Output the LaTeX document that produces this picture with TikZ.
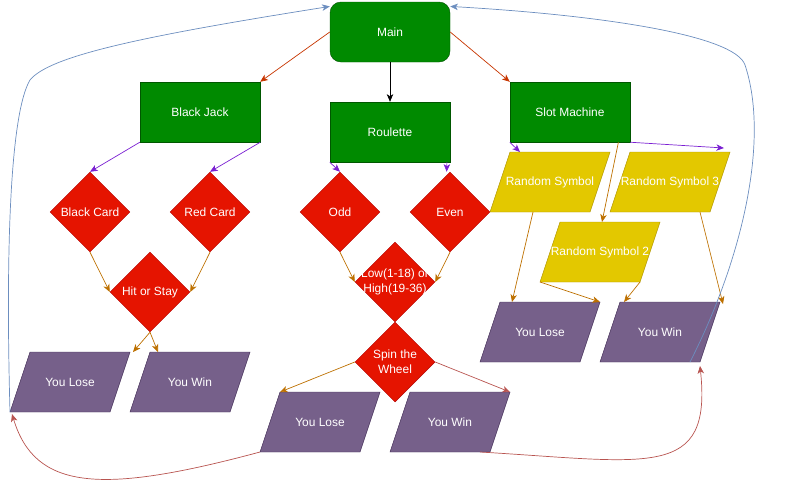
\documentclass[tikz,border=0pt]{standalone}
\usepackage{fontspec}
\setmainfont{Liberation Sans}
\usetikzlibrary{shapes.geometric, arrows.meta, calc}

\definecolor{gamegreen}{HTML}{008A00}
\definecolor{gameline}{HTML}{005700}
\definecolor{choicered}{HTML}{E51400}
\definecolor{choiceline}{HTML}{B20000}
\definecolor{symyellow}{HTML}{E3C800}
\definecolor{symline}{HTML}{B09500}
\definecolor{endpurple}{HTML}{76608A}
\definecolor{endline}{HTML}{432D57}
\definecolor{toorange}{HTML}{C73500}
\definecolor{toviolet}{HTML}{7A1FD2}
\definecolor{tobrown}{HTML}{BD7000}
\definecolor{tored}{HTML}{B85450}
\definecolor{toblue}{HTML}{6C8EBF}

\tikzset{
  game/.style={draw=gameline, fill=gamegreen, text=white, minimum width=3.6cm, minimum height=1.8cm, inner sep=0pt},
  choice/.style={diamond, draw=choiceline, fill=choicered, minimum width=2.4cm, minimum height=2.4cm, inner sep=0pt},
  symbol/.style={draw=symline, fill=symyellow},
  outcome/.style={draw=endline, fill=endpurple},
  txt/.style={text=white, align=center},
  flow/.style={line width=0.6pt, -{Stealth[length=6.5pt, width=5.5pt, inset=1.8pt]}}
}

% slanted box: name, centre, colours, text
\newcommand{\slantbox}[4]{%
  \begin{scope}[shift={(#2)}]
    \filldraw[#3] (-60,30) coordinate (#1-bl) -- (-40,-30) coordinate (#1-tl)
      -- (60,-30) coordinate (#1-tr) -- (40,30) coordinate (#1-br) -- cycle;
    \node[txt] (#1) at (0,0) {#4};
  \end{scope}}

\begin{document}
\begin{tikzpicture}[x=0.03cm, y=-0.03cm, font=\fontsize{10.2}{12.8}\selectfont]
  \useasboundingbox (0,0) rectangle (811,493);

  % games
  \node[game, rounded corners=0.33cm] (main) at (390,32) {Main};
  \node[game] (bj) at (200,112) {Black Jack};
  \node[game] (roul) at (390,132) {Roulette};
  \node[game] (slot) at (570,112) {Slot Machine};

  % choices
  \node[choice, label={[txt]center:Black Card}] (bcard) at (90,212) {};
  \node[choice, label={[txt]center:Red Card}] (rcard) at (210,212) {};
  \node[choice, label={[txt]center:Hit or Stay}] (hit) at (150,292) {};
  \node[choice, label={[txt]center:Odd}] (odd) at (340,212) {};
  \node[choice, label={[txt]center:Even}] (even) at (450,212) {};
  \node[choice, label={[txt]center:{Low(1-18) or\\High(19-36)}}] (low) at (395,282) {};
  \node[choice, label={[txt]center:{Spin the\\Wheel}}] (spin) at (395,362) {};

  % symbols
  \slantbox{rs1}{550,182}{symbol}{Random Symbol}
  \slantbox{rs3}{670,182}{symbol}{Random Symbol 3}
  \slantbox{rs2}{600,252}{symbol}{Random Symbol 2}

  % outcomes
  \slantbox{bjlose}{70,382}{outcome}{You Lose}
  \slantbox{bjwin}{190,382}{outcome}{You Win}
  \slantbox{rlose}{320,422}{outcome}{You Lose}
  \slantbox{rwin}{450,422}{outcome}{You Win}
  \slantbox{slose}{540,332}{outcome}{You Lose}
  \slantbox{swin}{660,332}{outcome}{You Win}

  % from main
  \draw[flow, toorange] (main.west) -- (bj.north east);
  \draw[flow, toorange] (main.east) -- (slot.north west);
  \draw[flow, black] (main.south) -- (roul.north);

  \draw[flow, toviolet] (bj.south west) -- (bcard.north);
  \draw[flow, toviolet] (bj.south east) -- (rcard.north);
  \draw[flow, toviolet] (roul.south west) -- (odd.north);
  \draw[flow, toviolet] ([xshift=-0.1cm]roul.south east) -- ([xshift=-0.1cm]even.north);
  \draw[flow, toviolet] (slot.south west) -- ($(rs1-tl)+(10,0)$);
  \draw[flow, toviolet] (slot.south east) -- ($(rs3-tr)+(-6,-4)$);

  % black jack
  \draw[flow, tobrown] (bcard.south) -- (hit.west);
  \draw[flow, tobrown] (rcard.south) -- (hit.east);
  \draw[flow, tobrown] (hit.south) -- ($(bjlose-tr)+(3,0)$);
  \draw[flow, tobrown] (hit.south) -- ($(bjwin-tl)+(8,0)$);

  % roulette
  \draw[flow, tobrown] (odd.south) -- (low.west);
  \draw[flow, tobrown] (even.south) -- (low.east);
  \draw[flow, tobrown] (spin.west) -- (rlose-tl);
  \draw[flow, tored] (spin.east) -- (rwin-tr);

  % slot machine
  \draw[flow, tobrown] (slot.-32) -- ($(rs2-tl)+(42,0)$);
  \draw[flow, tobrown] ($(rs1-bl)+(43,0)$) -- ($(slose-tl)+(12,0)$);
  \draw[flow, tobrown] (rs2-bl) -- (slose-tr);
  \draw[flow, tobrown] (rs2-br) -- ($(swin-tl)+(4,0)$);
  \draw[flow, tobrown] ($(rs3-br)+(-10,0)$) -- ($(swin-tr)+(3,2)$);

  % back to main
  \draw[flow, toblue] (bjlose-bl) .. controls (5,230) and (12,110) .. (30,80)
    .. controls (50,55) and (150,35) .. (main.157);
  \draw[flow, toblue] ($(swin-br)+(-10,0)$) .. controls (742,260) and (770,140) .. (745,65)
    .. controls (735,35) and (600,15) .. (main.23);
  \draw[flow, tored] (rlose-bl) .. controls (100,495) and (35,490) .. ($(bjlose-bl)+(2,2)$);
  \draw[flow, tored] ($(rwin-br)+(-10,0)$) .. controls (650,462) and (712,480) .. ($(swin-br)+(0,4)$);
\end{tikzpicture}
\end{document}
